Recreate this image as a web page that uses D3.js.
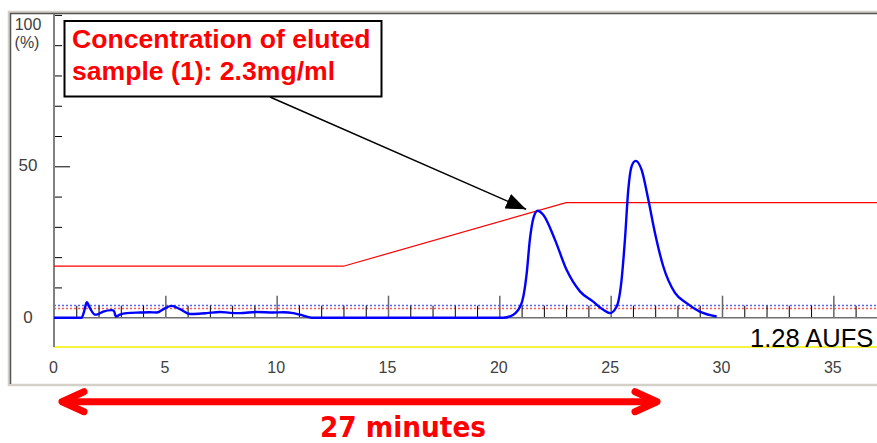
<!DOCTYPE html>
<html>
<head>
<meta charset="utf-8">
<script src="https://cdn.jsdelivr.net/npm/d3@7"></script>
<style>
  html, body { margin: 0; padding: 0; background: #fff; }
  svg { display: block; }
  .tick text { display: none; }
</style>
</head>
<body>
<svg id="chart" width="877" height="443"></svg>
<script>
// chromatogram trace (minutes, % of full scale)
const traceTime = [0, 1.24, 1.35, 1.47, 1.62, 1.84, 1.99, 2.21, 2.59, 2.69, 2.78, 2.96, 3.26, 3.86, 4.3, 4.61,
  4.98, 5.28, 5.66, 6.11, 6.5, 6.86, 7.45, 7.9, 8.35, 9.1, 9.85, 10.3, 10.75, 11.05, 11.57,
  20.18, 20.63, 21.0, 21.23, 21.37, 21.55, 21.72, 21.97, 22.5, 23.02, 23.62, 24.2, 24.67, 24.97,
  25.27, 25.49, 25.64, 25.79, 25.94, 26.12, 26.39, 26.69, 26.99, 27.36, 27.89, 28.41, 29.0, 29.76];
const traceValue = [0, 0, 2, 5.1, 3.1, 1, 1.2, 2, 2.5, 2.3, 0.4, 1, 1.5, 1.7, 1.8, 1.7,
  3.1, 3.9, 2.8, 1.2, 1.3, 1.5, 1.9, 1.6, 1.5, 1.9, 1.7, 1.8, 1.5, 1, 0,
  0, 1, 4.8, 14.7, 25.7, 33.4, 35.3, 34, 25.7, 15.8, 8.7, 5.4, 2.6, 1.5,
  3.7, 12.5, 25.7, 42.2, 50, 51.8, 48.8, 39, 28, 17, 8.2, 4.8, 2, 0.4];

// gradient program (%B)
const gradTime = [0, 13, 23, 40];
const gradValue = [17, 17, 38, 38];

// threshold lines
const blueLevel = 4;
const redLevel = 3;

const xMajor = [0, 5, 10, 15, 20, 25, 30, 35];
const xMinor = d3.range(1, 37).filter(d => d % 5 !== 0);
const yTicks = [10, 20, 30, 40, 50, 60, 70, 80, 90, 100];
const yLabels = [0, 50];

const svg = d3.select("#chart");

// scales
const x = d3.scaleLinear().domain([0, 30]).range([54, 722]);
const y = d3.scaleLinear().domain([0, 100]).range([317.7, 14.9]);
const right = 880;

// window frame
svg.append("rect")
    .attr("x", 9).attr("y", 12)
    .attr("width", 880).attr("height", 373)
    .attr("fill", "#fff")
    .attr("stroke", "#d4d0c8")
    .attr("stroke-width", 2.5);
svg.append("path")
    .attr("d", `M10.5,384 V13.5 H${right}`)
    .attr("fill", "none")
    .attr("stroke", "#555")
    .attr("stroke-width", 1.5);

// plot clip
svg.append("clipPath").attr("id", "plot")
    .append("rect").attr("x", 54).attr("y", 14).attr("width", right - 54).attr("height", 334);

// yellow floor line
svg.append("line")
    .attr("x1", 54).attr("x2", right)
    .attr("y1", 347).attr("y2", 347)
    .attr("stroke", "#f0f000")
    .attr("stroke-width", 1.5);

// dotted threshold lines
svg.append("line")
    .attr("x1", 54).attr("x2", right)
    .attr("y1", y(blueLevel)).attr("y2", y(blueLevel))
    .attr("stroke", "#5566ff")
    .attr("stroke-width", 1.5)
    .attr("stroke-dasharray", "2,2");
svg.append("line")
    .attr("x1", 54).attr("x2", right)
    .attr("y1", y(redLevel)).attr("y2", y(redLevel))
    .attr("stroke", "#ff5555")
    .attr("stroke-width", 1.5)
    .attr("stroke-dasharray", "2,2");

// x axis: minor ticks, major ticks (pointing up)
svg.append("g")
    .attr("transform", `translate(0,${y(0)})`)
    .call(d3.axisTop(x).tickValues(xMinor).tickSize(12).tickSizeOuter(0))
    .call(g => g.select(".domain").remove())
    .call(g => g.selectAll(".tick line").attr("stroke", "#000").attr("stroke-width", 1));
svg.append("g")
    .attr("transform", `translate(0,${y(0)})`)
    .call(d3.axisTop(x).tickValues(xMajor.slice(1)).tickSize(22).tickSizeOuter(0))
    .call(g => g.select(".domain").remove())
    .call(g => g.selectAll(".tick line").attr("stroke", "#666").attr("stroke-width", 1.5));
svg.append("line")
    .attr("x1", 54).attr("x2", right)
    .attr("y1", y(0)).attr("y2", y(0))
    .attr("stroke", "#707070")
    .attr("stroke-width", 1.5);

// x labels
const xLab = svg.append("g")
    .attr("transform", "translate(-1,373)")
    .call(d3.axisBottom(x).tickValues(xMajor).tickSize(0));
xLab.select(".domain").remove();
xLab.selectAll(".tick text")
    .style("display", "block")
    .attr("y", 0).attr("dy", 0)
    .attr("font-family", "'Liberation Sans', Arial, sans-serif")
    .attr("font-size", 16)
    .attr("fill", "#404040");

// y axis
svg.append("g")
    .attr("transform", "translate(54,0)")
    .call(d3.axisRight(y).tickValues(yTicks).tickSize(8).tickSizeOuter(0))
    .call(g => g.select(".domain").remove())
    .call(g => g.selectAll(".tick line")
        .attr("stroke", "#000")
        .attr("x2", d => d === 50 ? 16 : 8));
svg.append("line")
    .attr("x1", 54).attr("x2", 54)
    .attr("y1", 14).attr("y2", 347)
    .attr("stroke", "#808080")
    .attr("stroke-width", 2);

// y labels
svg.selectAll(".ylab")
    .data(yLabels)
    .join("text")
    .attr("class", "ylab")
    .attr("x", 28)
    .attr("y", d => y(d) + 5)
    .attr("text-anchor", "middle")
    .attr("font-family", "'Liberation Sans', Arial, sans-serif")
    .attr("font-size", 17)
    .attr("fill", "#404040")
    .text(d => d);
svg.append("text")
    .attr("x", 28).attr("y", 30)
    .attr("text-anchor", "middle")
    .attr("font-family", "'Liberation Sans', Arial, sans-serif")
    .attr("font-size", 16)
    .attr("fill", "#404040")
    .text("100");
svg.append("text")
    .attr("x", 27).attr("y", 48)
    .attr("text-anchor", "middle")
    .attr("font-family", "'Liberation Sans', Arial, sans-serif")
    .attr("font-size", 16)
    .attr("fill", "#404040")
    .text("(%)");

const plot = svg.append("g").attr("clip-path", "url(#plot)");

// gradient line
plot.append("path")
    .datum(d3.zip(gradTime, gradValue))
    .attr("fill", "none")
    .attr("stroke", "#ff0000")
    .attr("stroke-width", 1.2)
    .attr("d", d3.line().x(d => x(d[0])).y(d => y(d[1])));

// trace
plot.append("path")
    .datum(d3.zip(traceTime, traceValue))
    .attr("fill", "none")
    .attr("stroke", "#0000ff")
    .attr("stroke-width", 2.4)
    .attr("stroke-linejoin", "round")
    .attr("d", d3.line().x(d => x(d[0])).y(d => y(d[1])).curve(d3.curveMonotoneX));

// AUFS label
svg.append("text")
    .attr("x", 750).attr("y", 347)
    .attr("font-family", "'Liberation Sans', Arial, sans-serif")
    .attr("font-size", 25.5)
    .attr("fill", "#000")
    .text("1.28 AUFS");

// annotation box + arrow
svg.append("defs").append("marker")
    .attr("id", "head")
    .attr("markerUnits", "userSpaceOnUse")
    .attr("viewBox", "0 0 20 16")
    .attr("refX", 20).attr("refY", 8)
    .attr("markerWidth", 20).attr("markerHeight", 16)
    .attr("orient", "auto")
    .append("path")
    .attr("d", "M0,0 L20,8 L0,16 Z")
    .attr("fill", "#000");

svg.append("line")
    .attr("x1", 270).attr("y1", 97)
    .attr("x2", x(21.2)).attr("y2", y(35.8))
    .attr("stroke", "#000")
    .attr("stroke-width", 1.5)
    .attr("marker-end", "url(#head)");

svg.append("rect")
    .attr("x", 64.5).attr("y", 21)
    .attr("width", 317).attr("height", 75.5)
    .attr("fill", "#fff")
    .attr("stroke", "#000")
    .attr("stroke-width", 2);

const note = svg.append("text")
    .attr("font-family", "'Liberation Sans', Arial, sans-serif")
    .attr("font-weight", "bold")
    .attr("font-size", 26.6)
    .attr("fill", "#ff0000");
note.append("tspan").attr("x", 72).attr("y", 47.5).text("Concentration of eluted");
note.append("tspan").attr("x", 72).attr("y", 79.5).text("sample (1): 2.3mg/ml");

// 27 minutes span arrow
const spanY = 401.7;
const span = svg.append("g")
    .attr("stroke", "#ff0000")
    .attr("stroke-width", 7)
    .attr("stroke-linecap", "round")
    .attr("stroke-linejoin", "round")
    .attr("fill", "none");
span.append("line").attr("x1", 64).attr("x2", 655).attr("y1", spanY).attr("y2", spanY).attr("stroke-linecap", "butt");
span.append("path").attr("d", `M84,${spanY - 10} L62,${spanY} L84,${spanY + 10}`);
span.append("path").attr("d", `M635,${spanY - 10} L657,${spanY} L635,${spanY + 10}`);

svg.append("text")
    .attr("x", 403).attr("y", 437)
    .attr("text-anchor", "middle")
    .attr("font-family", "'Liberation Sans Narrow', 'DejaVu Sans Condensed', sans-serif")
    .attr("font-weight", "bold")
    .attr("font-size", 29)
    .attr("fill", "#ff0000")
    .attr("textLength", 166)
    .attr("lengthAdjust", "spacingAndGlyphs")
    .text("27 minutes");
</script>
</body>
</html>
